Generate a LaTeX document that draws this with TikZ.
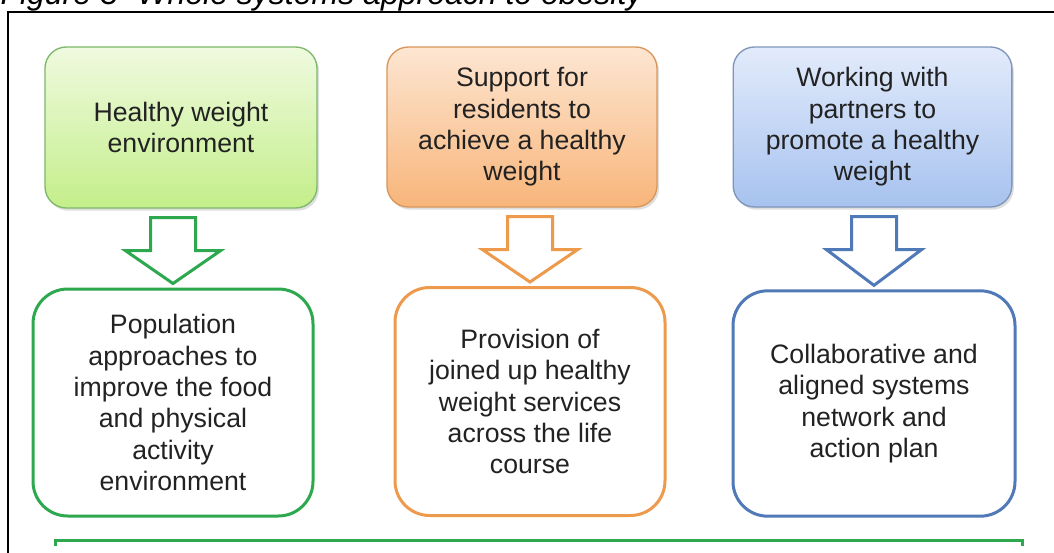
\documentclass[tikz,border=0pt]{standalone}
\usepackage{fontspec}
\setmainfont{Liberation Sans}
\usetikzlibrary{calc,shadows}

\definecolor{leafTop}{HTML}{EFFADF}
\definecolor{leafBot}{HTML}{C4EE8A}
\definecolor{leafEdge}{HTML}{7DB86B}
\definecolor{leafLine}{HTML}{2DA84E}
\definecolor{peachTop}{HTML}{FDE6D2}
\definecolor{peachBot}{HTML}{F8B57A}
\definecolor{peachEdge}{HTML}{D9965A}
\definecolor{peachLine}{HTML}{EE9A4D}
\definecolor{skyTop}{HTML}{E2EBFB}
\definecolor{skyBot}{HTML}{A7C2EF}
\definecolor{skyEdge}{HTML}{7F95B9}
\definecolor{skyLine}{HTML}{5079B8}
\definecolor{inkgrey}{HTML}{222222}

\newcommand{\bodyfont}{\fontsize{20}{23.5}\selectfont}
\newcommand{\capfont}{\fontsize{24}{28}\selectfont\itshape}

% hollow block arrow from box #1 down to box #2
\newcommand{\hollowdown}[3]{%
  \draw [hollow, draw=#3] ($(#2.north |- #1.south)+(-22.5,9)$) -- ++(0,33) -- ++(-25,0)
    -- ($(#2.north)+(0,-4)$) -- ($(#2.north |- #1.south)+(47.5,42)$) -- ++(-25,0) -- ++(0,-33) -- cycle ;}

\tikzset{every picture/.style={line width=0.75pt}}
\tikzset{
  topbox/.style={rectangle, rounded corners=16pt, draw=#1Edge, top color=#1Top, bottom color=#1Bot,
    line width=1pt, align=center, text=inkgrey, font=\bodyfont, inner sep=0pt,
    drop shadow={opacity=0.25, shadow xshift=1.5pt, shadow yshift=-2pt}},
  lowbox/.style={rectangle, rounded corners=26pt, draw=#1Line, fill=white,
    line width=2.25pt, align=center, text=inkgrey, font=\bodyfont, inner sep=0pt},
  hollow/.style={line width=2.25pt, fill=white},
}

\begin{document}
\begin{tikzpicture}[x=0.75pt,y=0.75pt,yscale=-1,xscale=1]
\useasboundingbox (0,0) rectangle (1054,553);
\clip (0,0) rectangle (1054,553);
\fill [white] (0,0) rectangle (1054,553);

% Text Node
\node [anchor=base west, inner sep=0pt, font=\capfont] (cap) at (0,4) {Figure 3- Whole systems approach to obesity};

%Frame
\draw [line width=1.5pt] (8,560) -- (8,12) -- (1060,12) ;

%Rounded Rect
\node [topbox=leaf, minimum width=204pt, minimum height=120.75pt] (healthy) at (181,127.5) {Healthy weight\\environment};
%Rounded Rect
\node [topbox=peach, minimum width=202.5pt, minimum height=120pt] (support) at (522,127) {Support for\\residents to\\achieve a healthy\\weight};
%Rounded Rect
\node [topbox=sky, minimum width=209pt, minimum height=120pt] (partners) at (872.5,127) {Working with\\partners to\\promote a healthy\\weight};

%Rounded Rect
\node [lowbox=leaf, minimum width=210pt, minimum height=170.25pt] (population) at (173,402.5) {Population\\approaches to\\improve the food\\and physical\\activity\\environment};
%Rounded Rect
\node [lowbox=peach, minimum width=202.5pt, minimum height=171pt] (provision) at (530,401.5) {Provision of\\joined up healthy\\weight services\\across the life\\course};
%Rounded Rect
\node [lowbox=sky, minimum width=211.5pt, minimum height=169pt] (network) at (874,403.5) {Collaborative and\\aligned systems\\network and\\action plan};

%Block Arrows
\hollowdown{healthy}{population}{leafLine}
\hollowdown{support}{provision}{peachLine}
\hollowdown{partners}{network}{skyLine}

%Straight Lines
\coordinate (baseL) at (55,546);
\coordinate (baseR) at (1022,546);
\draw [line width=2.25pt, draw=leafLine] (baseL) -- ++(0,-6) -| (baseR) ;

\end{tikzpicture}
\end{document}
